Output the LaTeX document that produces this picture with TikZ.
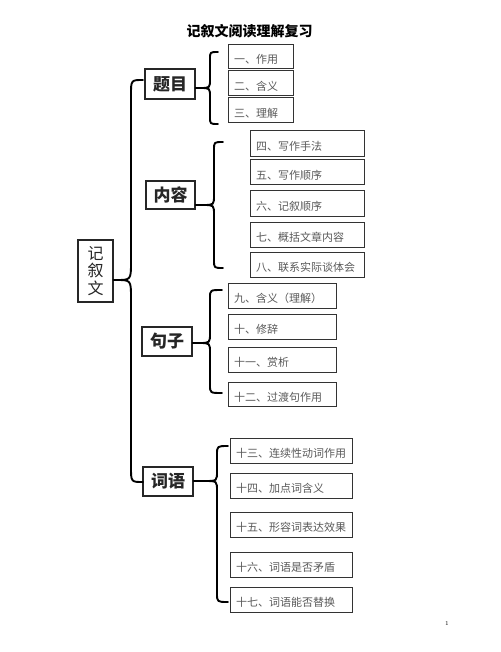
\documentclass[tikz,border=0pt]{standalone}
\usepackage{fontspec}
\newfontfamily\cjk{Noto Sans CJK SC}
\newcommand\mybrace[8]{\draw[bracel] (#1,#4) .. controls (#2,#4) .. (#2,#4+#7) -- (#2,#5-#8) .. controls (#2,#5) .. (#3,#5) .. controls (#2,#5) .. (#2,#5+#8) -- (#2,#6-#7) .. controls (#2,#6) .. (#1,#6);}
\begin{document}
\begin{tikzpicture}[x=1pt,y=-1pt,
  mainbox/.style={draw=black!85, line width=1.1pt, font=\cjk\bfseries\fontsize{17}{17}\selectfont, text=black!85, inner sep=0pt, minimum width=50pt, minimum height=29pt},
  subbox/.style={draw=black!80, line width=1pt, font=\cjk\fontsize{11}{11}\selectfont, text=black!65, inner xsep=6pt, inner ysep=1pt, align=left, text height=14pt, text depth=0pt},
  bracel/.style={line width=1.9pt, line cap=round, line join=round},
  conn/.style={line width=1.9pt, line cap=round}]
\useasboundingbox (0,0) rectangle (500,652);
% title
\node[font=\cjk\bfseries\fontsize{14}{14}\selectfont] (title) at (249.5,31) {记叙文阅读理解复习};
% root
\node[mainbox, minimum width=35pt, minimum height=62pt, align=center, font=\cjk\fontsize{16}{17.5}\selectfont] (root) at (95.5,271) {记\\叙\\文};
% main nodes
\node[mainbox, minimum height=30pt] (tm) at (170,84) {题目};
\node[mainbox, minimum width=49pt, minimum height=28pt] (nr) at (170.5,195) {内容};
\node[mainbox] (jz) at (167,341.5) {句子};
\node[mainbox] (cy) at (168,481.5) {词语};
% 题目 subs
\node[subbox, text width=53pt, minimum height=24pt] (a1) at (260.5,57) {一、作用};
\node[subbox, text width=53pt, minimum height=25pt] (a2) at (260.5,83.5) {二、含义};
\node[subbox, text width=53pt, minimum height=25pt] (a3) at (260.5,110.5) {三、理解};
% 内容 subs
\node[subbox, text width=102pt, minimum height=26pt] (b4) at (307,144) {四、写作手法};
\node[subbox, text width=102pt, minimum height=25pt] (b5) at (307,172.5) {五、写作顺序};
\node[subbox, text width=102pt, minimum height=25pt] (b6) at (307,203.5) {六、记叙顺序};
\node[subbox, text width=102pt, minimum height=25pt] (b7) at (307,234.5) {七、概括文章内容};
\node[subbox, text width=102pt, minimum height=25pt] (b8) at (307,264.5) {八、联系实际谈体会};
% 句子 subs
\node[subbox, text width=96pt, minimum height=25pt] (c9) at (282,295.5) {九、含义（理解）};
\node[subbox, text width=96pt, minimum height=25pt] (c10) at (282,326.5) {十、修辞};
\node[subbox, text width=96pt, minimum height=25pt] (c11) at (282,359.5) {十一、赏析};
\node[subbox, text width=96pt, minimum height=24pt] (c12) at (282,394) {十二、过渡句作用};
% 词语 subs
\node[subbox, text width=110pt, minimum height=25pt] (d13) at (291,450.5) {十三、连续性动词作用};
\node[subbox, text width=110pt, minimum height=25pt] (d14) at (291,485.5) {十四、加点词含义};
\node[subbox, text width=110pt, minimum height=25pt] (d15) at (291,524.5) {十五、形容词表达效果};
\node[subbox, text width=110pt, minimum height=25pt] (d16) at (291,564.5) {十六、词语是否矛盾};
\node[subbox, text width=110pt, minimum height=25pt] (d17) at (291,599.5) {十七、词语能否替换};
% page number
\node[font=\fontsize{6}{6}\selectfont] (pg) at (447,623) {1};
% brace tips
\coordinate (t0) at (116,280);
\coordinate (t1) at (200,88);
\coordinate (t2) at (203,205);
\coordinate (t3) at (199,343);
\coordinate (t4) at (205,481);
\draw[conn] (root.east |- t0) -- (t0);
\draw[conn] (tm.east |- t1) -- (t1);
\draw[conn] (nr.east |- t2) -- (t2);
\draw[conn] (jz.east |- t3) -- (t3);
\draw[conn] (cy.east |- t4) -- (t4);
% braces
\mybrace{143}{131}{116}{80}{280}{482}{15}{18}
\mybrace{218}{210}{200}{52}{88}{124}{7}{9}
\mybrace{223}{214}{203}{142}{205}{268}{8}{10}
\mybrace{222}{210}{199}{290}{343}{393}{8}{10}
\mybrace{228}{217}{205}{446}{481}{602}{9}{10}
\end{tikzpicture}
\end{document}
